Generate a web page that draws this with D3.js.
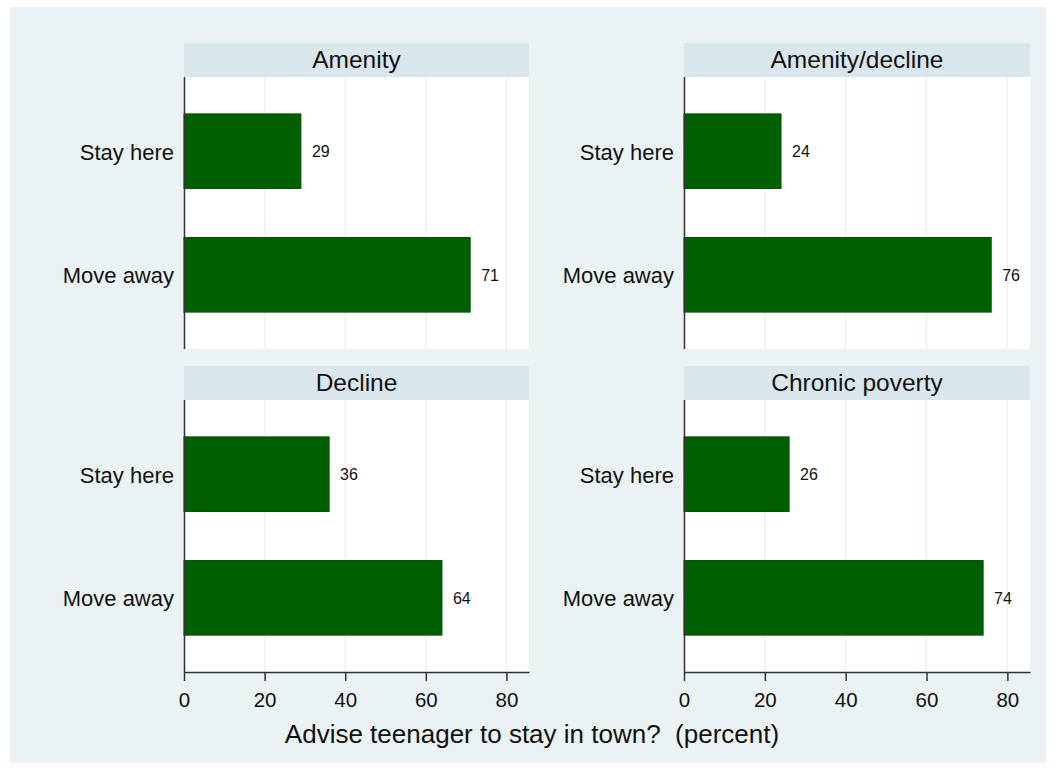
<!DOCTYPE html>
<html><head><meta charset="utf-8">
<script src="https://cdn.jsdelivr.net/npm/d3@7"></script>
<style>body{margin:0;background:#fff}svg{display:block;font-family:"Liberation Sans",Arial,sans-serif}text{white-space:pre}</style>
</head><body><svg id="c" width="1054" height="771"></svg>
<script>
const panels = ["Amenity","Amenity/decline","Decline","Chronic poverty"];
const categories = ["Stay here","Move away"];
const stayValues = [29,24,36,26];
const moveValues = [71,76,64,74];
const xTicks = [0,20,40,60,80];
const xTitle = "Advise teenager to stay in town?  (percent)";

const svg = d3.select("#c");
svg.append("rect").attr("x",10).attr("y",7).attr("width",1036).attr("height",756).attr("fill","#eaf2f3");

const layout = [
  {x0:184,x1:529,y0:77,y1:349,row:0},
  {x0:684,x1:1030,y0:77,y1:349,row:0},
  {x0:184,x1:529,y0:400,y1:672,row:1},
  {x0:684,x1:1030,y0:400,y1:672,row:1}
];

panels.forEach((name,i)=>{
  const L = layout[i];
  const g = svg.append("g");
  const x = d3.scaleLinear().domain([0,85.6]).range([L.x0,L.x1]);
  const y = d3.scaleBand().domain(categories).range([L.y0,L.y1]).paddingInner(0.397).paddingOuter(0.2985);
  g.append("rect").attr("x",L.x0).attr("y",L.y0-34).attr("width",L.x1-L.x0).attr("height",34).attr("fill","#d9e6eb");
  g.append("text").attr("x",(L.x0+L.x1)/2).attr("y",L.y0-9).attr("text-anchor","middle").attr("font-size",24.5).attr("fill","#111").text(name);
  g.append("rect").attr("x",L.x0).attr("y",L.y0).attr("width",L.x1-L.x0).attr("height",L.y1-L.y0).attr("fill","#fff");
  g.selectAll("line.grid").data(xTicks.slice(1)).join("line").attr("class","grid")
    .attr("x1",d=>x(d)).attr("x2",d=>x(d)).attr("y1",L.y0).attr("y2",L.y1)
    .attr("stroke","#eaf2f3").attr("stroke-width",1.5);
  const vals = [stayValues[i],moveValues[i]];
  g.selectAll("rect.bar").data(categories).join("rect").attr("class","bar")
    .attr("x",x(0)).attr("y",d=>y(d)).attr("width",(d,j)=>x(vals[j])-x(0)).attr("height",y.bandwidth())
    .attr("fill","#005f00").attr("stroke","#004f00").attr("stroke-width",1);
  g.selectAll("text.val").data(categories).join("text").attr("class","val")
    .attr("x",(d,j)=>x(vals[j])+11).attr("y",d=>y(d)+y.bandwidth()/2+6)
    .attr("font-size",16).attr("fill","#111").text((d,j)=>vals[j]);
  g.selectAll("text.cat").data(categories).join("text").attr("class","cat")
    .attr("x",L.x0-10).attr("y",d=>y(d)+y.bandwidth()/2+8.5).attr("text-anchor","end")
    .attr("font-size",22).attr("fill","#111").text(d=>d);
  g.append("line").attr("x1",L.x0+0.5).attr("x2",L.x0+0.5).attr("y1",L.y0).attr("y2",L.y1).attr("stroke","#333").attr("stroke-width",1.5);
  if(L.row===1){
    const ax = g.append("g").attr("transform",`translate(0,${L.y1})`)
      .call(d3.axisBottom(x).tickValues(xTicks).tickSize(9).tickSizeOuter(0).tickPadding(0));
    ax.select(".domain").attr("stroke","#333").attr("stroke-width",1.5);
    ax.selectAll(".tick line").attr("stroke","#333").attr("stroke-width",1.5);
    ax.selectAll(".tick text").attr("font-size",20.5).attr("fill","#111").attr("dy",null).attr("y",35)
      .attr("font-family","Liberation Sans, Arial, sans-serif");
  }
});

svg.append("text").attr("x",532).attr("y",743).attr("text-anchor","middle").attr("font-size",26).attr("fill","#111").text(xTitle);
</script></body></html>
